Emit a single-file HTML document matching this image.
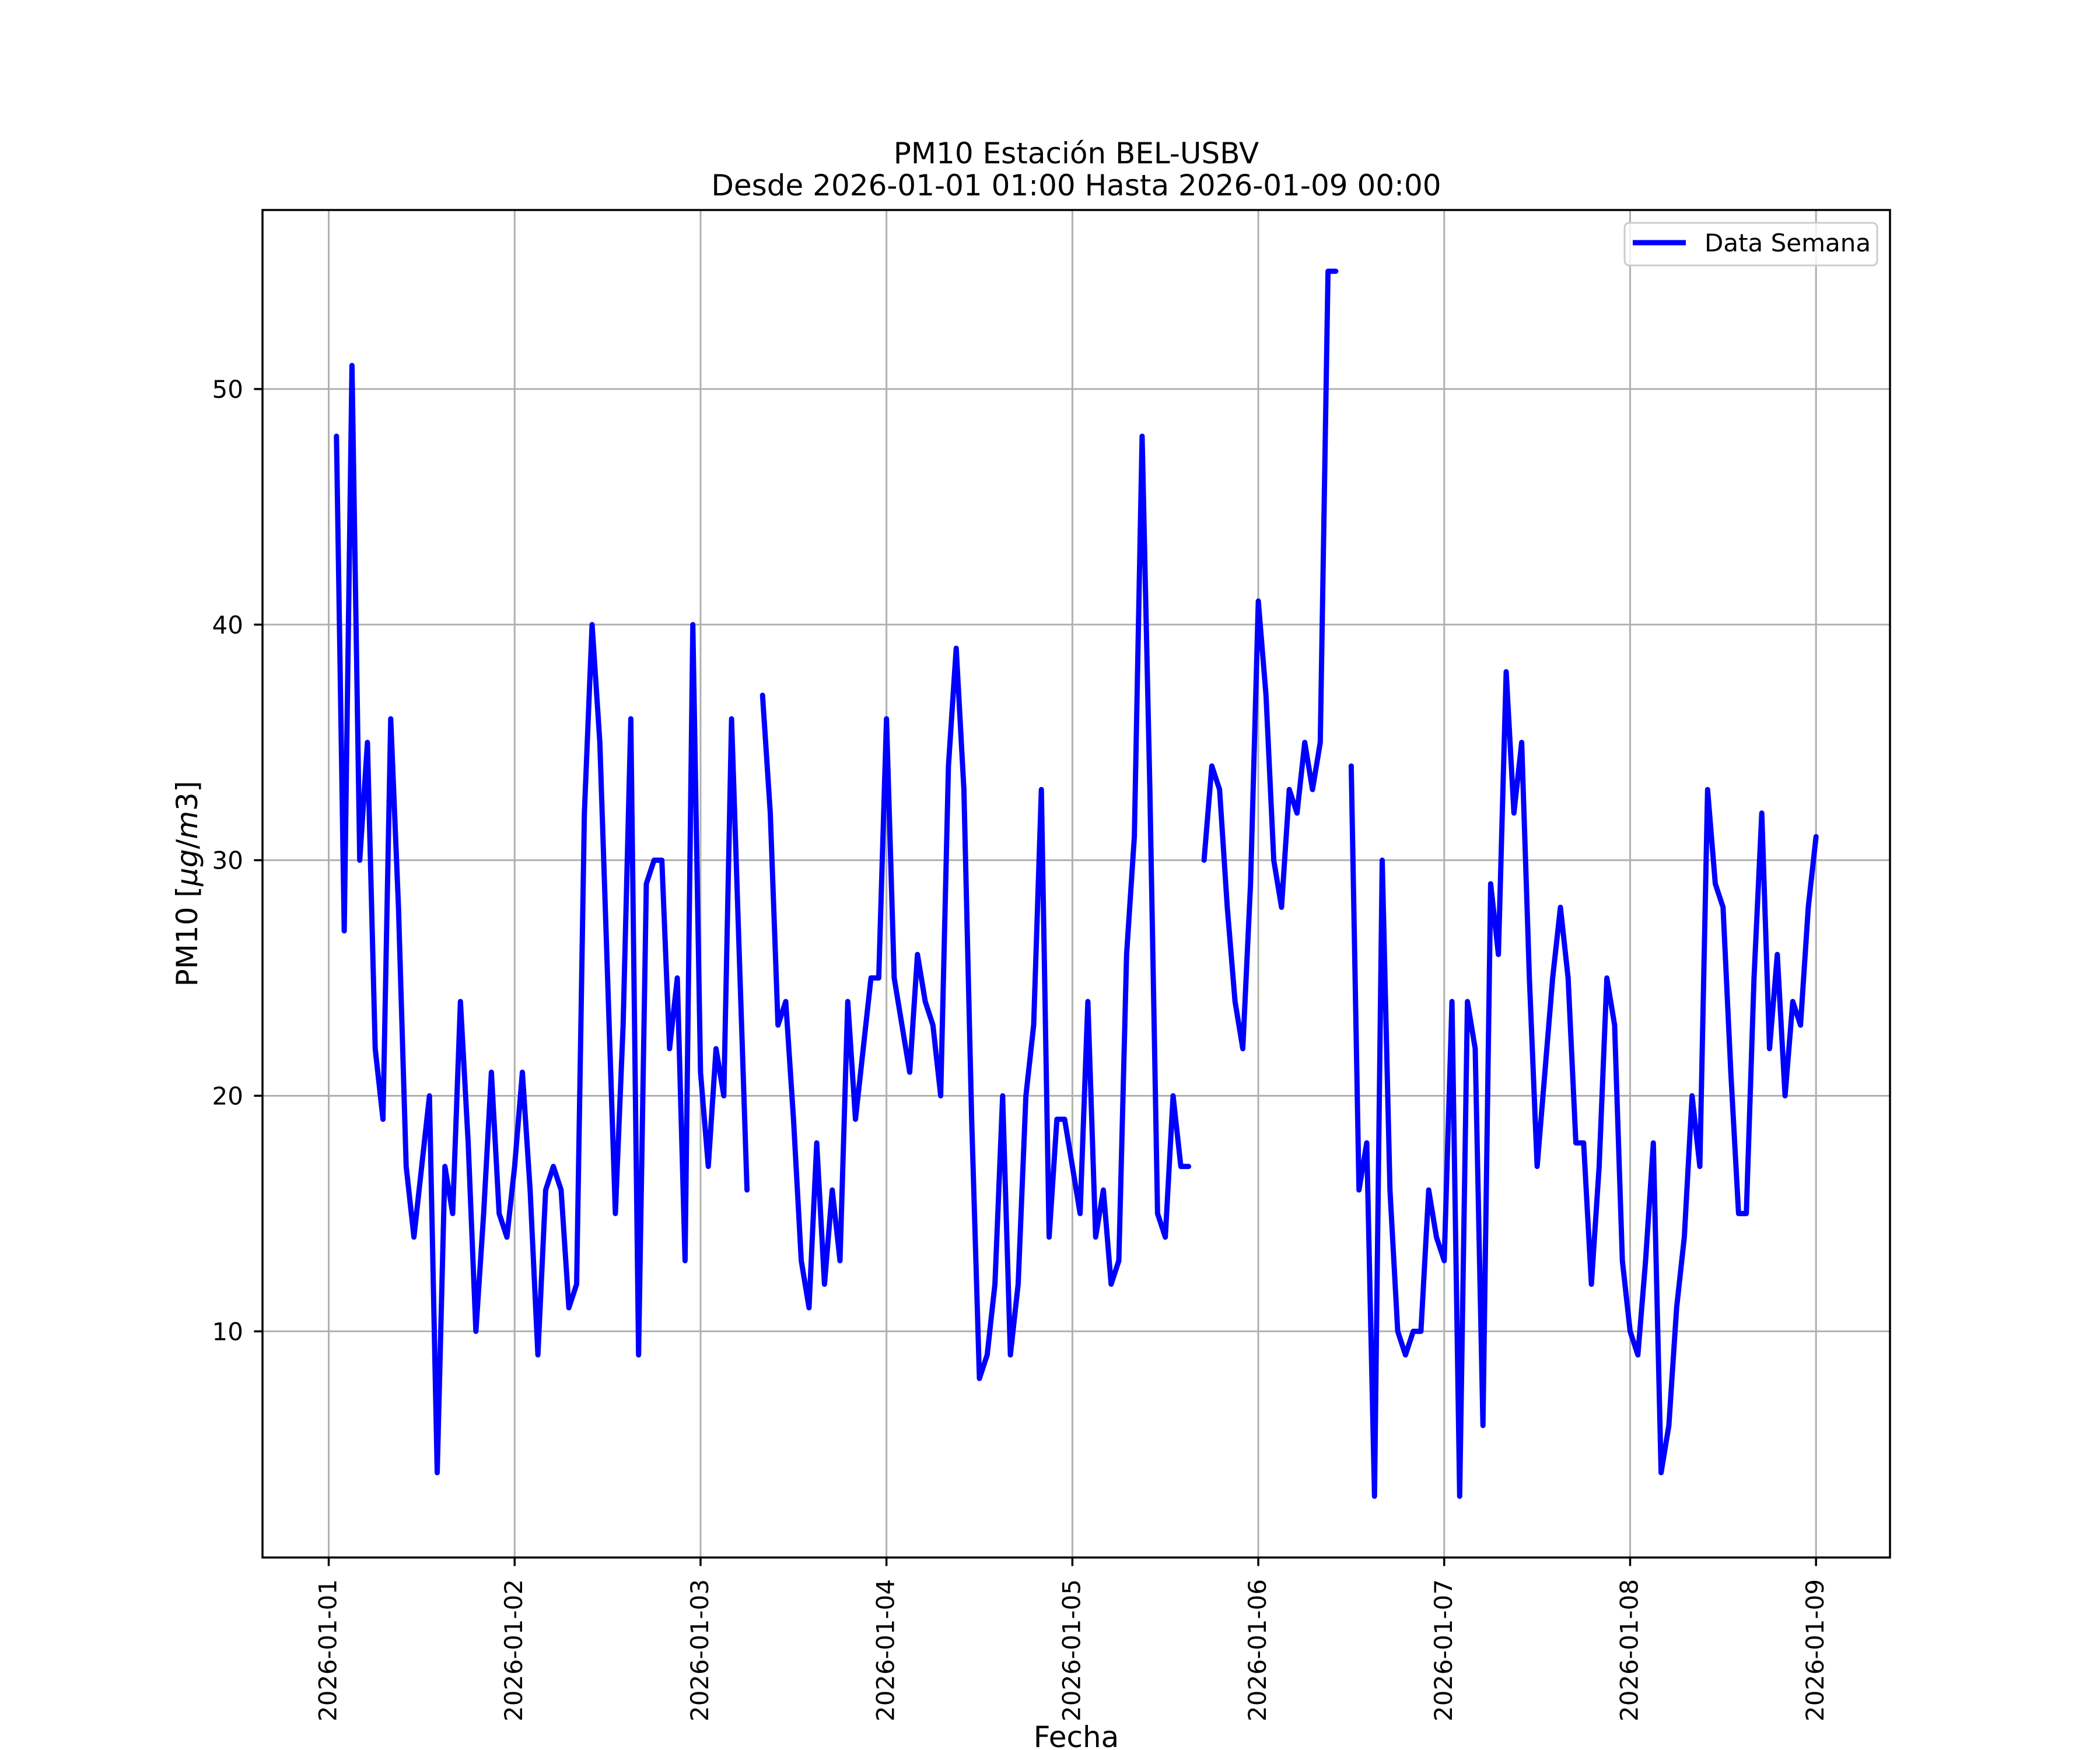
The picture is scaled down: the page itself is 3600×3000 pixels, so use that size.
<!DOCTYPE html>
<html><head><meta charset="utf-8">
<style>
html,body{margin:0;padding:0;background:#fff;}
svg{display:block;font-family:"DejaVu Sans","Liberation Sans",sans-serif;}
</style></head>
<body>
<svg id="chart" width="3600" height="3000" viewBox="0 0 3600 3000" xmlns="http://www.w3.org/2000/svg">
<rect x="0" y="0" width="3600" height="3000" fill="#fff"/>
<g id="grid"></g>
<g id="series"></g>
<rect x="450" y="360" width="2790" height="2310" fill="none" stroke="#000" stroke-width="3.5"/>
<g id="ticks"></g>
<text x="1845" y="280" font-size="50" text-anchor="middle">PM10 Estación BEL-USBV</text>
<text x="1845" y="335" font-size="50" text-anchor="middle">Desde 2026-01-01 01:00 Hasta 2026-01-09 00:00</text>
<text x="1845" y="2995" font-size="50" text-anchor="middle">Fecha</text>
<text transform="translate(338,1515) rotate(-90)" font-size="50" text-anchor="middle">PM10 [<tspan font-style="italic">μg</tspan>/<tspan font-style="italic">m</tspan>3]</text>
<g>
<rect x="2785" y="382" width="433" height="73" rx="8" fill="#fff" fill-opacity="0.8" stroke="#ccc" stroke-width="3"/>
<line x1="2799" y1="416" x2="2890" y2="416" stroke="#0000ff" stroke-width="9"/>
<text x="2922" y="431" font-size="42">Data Semana</text>
</g>
</svg>
<script>
const hours = [];
for (let h = 1; h <= 192; h++) hours.push(h);
const pm10Values = [48,27,51,30,35,22,19,36,28,17,14,17,20,4,17,15,24,18,10,15,21,15,14,17,21,16,9,16,17,16,11,12,32,40,35,25,15,23,36,9,29,30,30,22,25,13,40,21,17,22,20,36,26,16,null,37,32,23,24,19,13,11,18,12,16,13,24,19,22,25,25,36,25,23,21,26,24,23,20,34,39,33,19,8,9,12,20,9,12,20,23,33,14,19,19,17,15,24,14,16,12,13,26,31,48,33,15,14,20,17,17,null,30,34,33,28,24,22,29,41,37,30,28,33,32,35,33,35,55,55,null,34,16,18,3,30,16,10,9,10,10,16,14,13,24,3,24,22,6,29,26,38,32,35,25,17,21,25,28,25,18,18,12,17,25,23,13,10,9,13,18,4,6,11,14,20,17,33,29,28,21,15,15,25,32,22,26,20,24,23,28,31];
const xTickDays = [0,1,2,3,4,5,6,7,8];
const xTickLabels = ["2026-01-01","2026-01-02","2026-01-03","2026-01-04","2026-01-05","2026-01-06","2026-01-07","2026-01-08","2026-01-09"];
const yTicks = [10,20,30,40,50];

const NS = "http://www.w3.org/2000/svg";
const L = 450, R = 3240, T = 360, B = 2670;
const xMin = -8.55, xMax = 201.55, yMin = 0.4, yMax = 57.6;
function xs(h){ return L + (h - xMin) / (xMax - xMin) * (R - L); }
function ys(v){ return B - (v - yMin) / (yMax - yMin) * (B - T); }
function mk(tag, attrs, parent){ const e = document.createElementNS(NS, tag); for (const k in attrs) e.setAttribute(k, attrs[k]); parent.appendChild(e); return e; }

const grid = document.getElementById('grid');
const ticks = document.getElementById('ticks');
xTickDays.forEach((d, i) => {
  const x = xs(d * 24);
  const g = mk('line', {x1:x, x2:x, y1:T, y2:B, stroke:'#b0b0b0', 'stroke-width':3}, grid);
  
  
  const t = mk('line', {x1:x, x2:x, y1:B, y2:B+14.6, stroke:'#000', 'stroke-width':3.5}, ticks);
  
  
  const lb = mk('text', {transform:`translate(${x+13},2707) rotate(-90)`, 'font-size':42, 'text-anchor':'end'}, ticks);
  lb.textContent = xTickLabels[i];
  
  
});
yTicks.forEach(v => {
  const y = ys(v);
  const g = mk('line', {x1:L, x2:R, y1:y, y2:y, stroke:'#b0b0b0', 'stroke-width':3}, grid);
  
  
  const t = mk('line', {x1:L-14.6, x2:L, y1:y, y2:y, stroke:'#000', 'stroke-width':3.5}, ticks);
  
  
  const lb = mk('text', {x:417, y:y+15, 'font-size':42, 'text-anchor':'end'}, ticks);
  lb.textContent = String(v);
  
  
});

const series = document.getElementById('series');
let segs = [], cur = [];
hours.forEach((h, i) => {
  const v = pm10Values[i];
  if (v === null || v === undefined) { if (cur.length) segs.push(cur); cur = []; }
  else cur.push(xs(h).toFixed(1) + ',' + ys(v).toFixed(1));
});
if (cur.length) segs.push(cur);
segs.forEach(s => {
  const p = mk('polyline', {points:s.join(' '), fill:'none', stroke:'#0000ff', 'stroke-width':9, 'stroke-linejoin':'round', 'stroke-linecap':'round'}, series);
  
  
});
</script>
</body></html>
